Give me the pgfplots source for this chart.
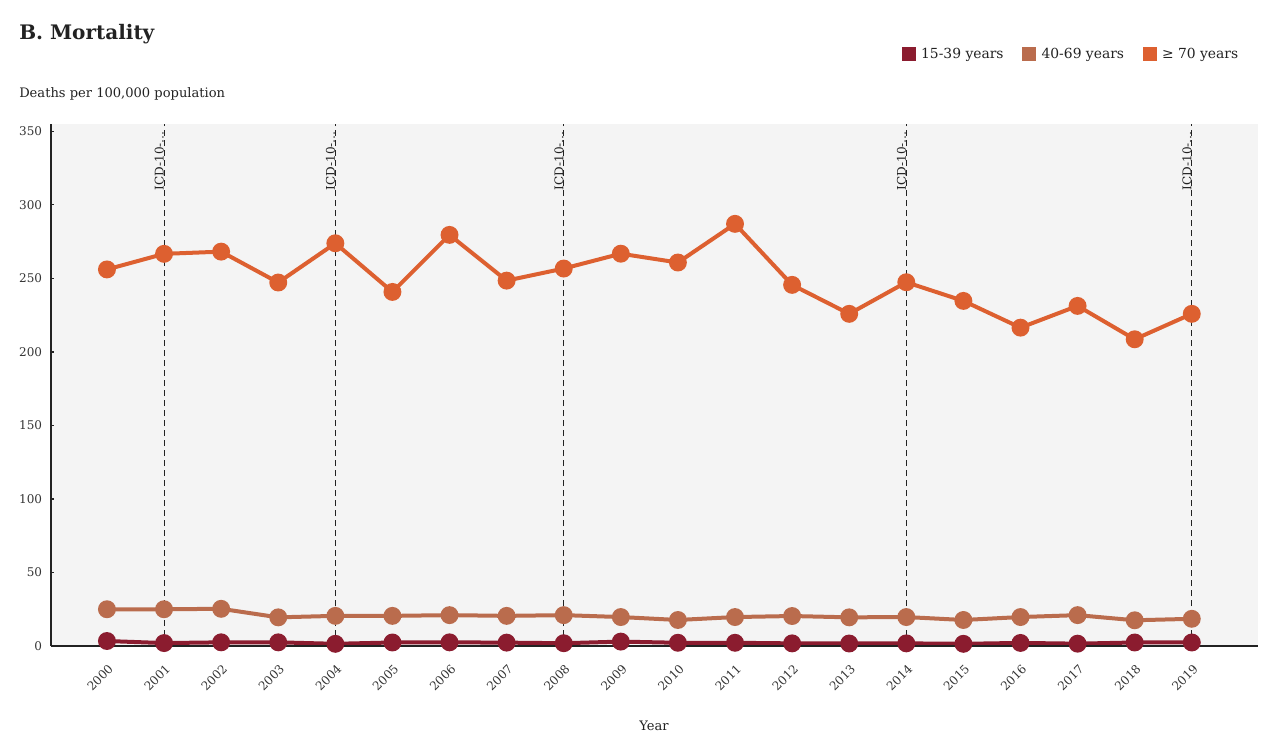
\documentclass[border=0pt]{standalone}
\usepackage{fontspec}
\setmainfont{DejaVu Serif}
\usepackage{pgfplots}
\pgfplotsset{compat=1.18}
\usepackage{pgfplotstable}

\definecolor{young}{HTML}{8B1C2F}
\definecolor{middle}{HTML}{BA6C4D}
\definecolor{old}{HTML}{DD6030}
\definecolor{panel}{HTML}{F4F4F4}
\definecolor{ink}{HTML}{222222}
\definecolor{tickink}{HTML}{333333}

% Deaths per 100,000 population by age group
\pgfplotstableread{
year  a    b     c
2000  3.4  25.0  256.1
2001  2.0  25.0  266.7
2002  2.5  25.3  268.2
2003  2.5  19.5  247.2
2004  1.5  20.5  273.9
2005  2.4  20.5  240.8
2006  2.5  21.0  279.6
2007  2.3  20.5  248.5
2008  1.9  21.0  256.7
2009  3.0  19.7  266.8
2010  2.2  17.7  260.8
2011  2.2  19.7  287.1
2012  1.8  20.4  245.6
2013  1.7  19.5  225.9
2014  1.8  19.7  247.4
2015  1.5  17.7  234.7
2016  2.1  19.7  216.5
2017  1.6  21.0  231.3
2018  2.4  17.5  208.6
2019  2.4  18.5  225.9
}\mortality

\begin{document}
\begin{tikzpicture}
\useasboundingbox (0pt,0pt) rectangle (957pt,-565.5pt);

\node[anchor=base west, inner sep=0, text=ink,
      font=\bfseries\fontsize{15}{18}\selectfont] at (14.25pt,-29.25pt) {B. Mortality};
\node[anchor=base west, inner sep=0, text=ink,
      font=\fontsize{9.8}{12}\selectfont] at (14.25pt,-72.75pt) {Deaths per 100,000 population};
\node[anchor=base, inner sep=0, text=ink,
      font=\fontsize{9.8}{12}\selectfont] at (490.5pt,-547.5pt) {Year};

\begin{axis}[
  at={(38.25pt,-484.5pt)}, anchor=south west,
  scale only axis, width=905.25pt, height=391.5pt,
  xmin=1999.02, xmax=2020.16, ymin=0, ymax=355,
  axis x line*=bottom, axis y line*=left,
  x axis line style={-, ink, line width=1.5pt},
  y axis line style={-, ink, line width=1.1pt},
  axis background/.style={fill=panel},
  axis on top,
  xtick={2000,2001,...,2019},
  ytick={0,50,...,350},
  x tick style={draw=none},
  y tick style={ink, line width=0.9pt},
  tick align=inside, major tick length=2.5pt,
  /pgf/number format/assume math mode=true,
  /pgf/number format/1000 sep={},
  tick label style={text=tickink, font=\fontsize{9}{11}\selectfont},
  xticklabel style={xshift=3pt, yshift=-15.5pt, rotate=45, anchor=east, inner sep=0pt},
  yticklabel style={anchor=east, inner sep=0pt, xshift=-6.5pt},
  legend style={at={(axis description cs:0.986,1.134)}, anchor=east,
    draw=none, fill=none, inner sep=0pt, text=ink,
    font=\fontsize{10.4}{12}\selectfont,
    legend columns=3,
    /tikz/every odd column/.append style={column sep=2pt},
    /tikz/every even column/.append style={column sep=12pt}},
  legend image code/.code={\fill[draw=none] (0pt,-5.25pt) rectangle (10.5pt,5.25pt);},
]
\addplot[young, line width=3pt, mark=*, mark size=5.2pt, mark options={draw=none, fill=young}]
  table[x=year, y=a] {\mortality};
\addlegendentry{15-39 years}
\addplot[middle, line width=3pt, mark=*, mark size=5.2pt, mark options={draw=none, fill=middle}]
  table[x=year, y=b] {\mortality};
\addlegendentry{40-69 years}
\addplot[old, line width=3pt, mark=*, mark size=5.2pt, mark options={draw=none, fill=old}]
  table[x=year, y=c] {\mortality};
\addlegendentry{≥ 70 years}

% coding-revision reference lines
\foreach \yr in {2001,2004,2008,2014,2019} {
  \edef\temp{\noexpand\addplot[ink, line width=0.8pt, dash pattern=on 4.5pt off 3pt, forget plot]
    coordinates {(\yr,0) (\yr,355)};
  \noexpand\node[rotate=90, anchor=south east, inner sep=0, xshift=-3pt, text=ink,
    font=\noexpand\fontsize{9}{11}\noexpand\selectfont] at (axis cs:\yr,353) {ICD-10-…};}
  \temp
}
\end{axis}
\end{tikzpicture}
\end{document}
